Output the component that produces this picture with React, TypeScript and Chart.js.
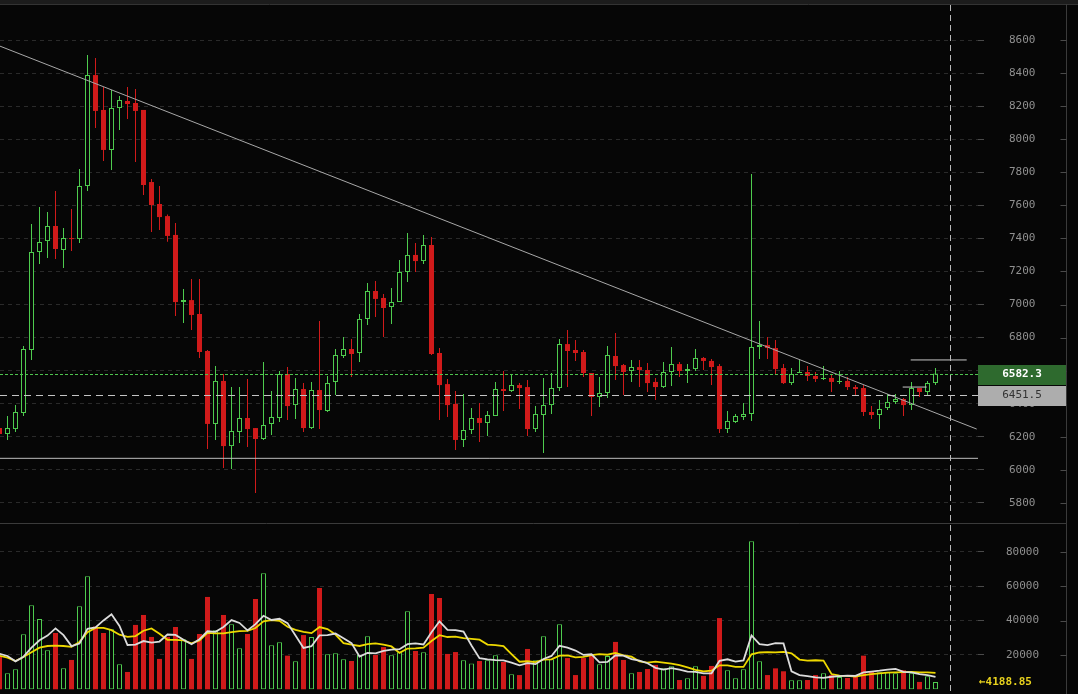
import React, { useEffect, useRef } from "react";
import { Chart, registerables } from "chart.js";

Chart.register(...registerables);

const opens = [6253,6217,6247,6344,6725,7318,7384,7475,7330,7402,
 7396,7717,8388,8177,7935,8189,8231,8219,8177,7741,
 7608,7535,7421,7015,7027,6943,6719,6278,6538,6144,
 6229,6314,6253,6187,6278,6314,6580,6392,6489,6253,
 6483,6356,6532,6689,6731,6707,6913,7082,7040,6985,
 7015,7197,7300,7263,7360,6707,6519,6399,6181,6241,
 6314,6284,6326,6489,6477,6513,6501,6247,6332,6392,
 6495,6761,6725,6713,6586,6441,6465,6689,6634,6598,
 6622,6604,6532,6501,6592,6640,6598,6610,6677,6659,
 6628,6247,6290,6320,6338,6743,6755,6737,6616,6525,
 6586,6592,6568,6550,6556,6532,6538,6501,6495,6350,
 6332,6374,6411,6429,6392,6495,6471,6525];

const highs = [6265,6326,6392,6749,7487,7590,7560,7687,7463,7578,
 7820,8509,8491,8316,8298,8261,8316,8304,8177,7759,
 7717,7545,7493,7094,7154,7154,6725,6628,6580,6501,
 6501,6550,6253,6652,6477,6598,6622,6556,6525,6532,
 6900,6568,6731,6804,6792,6943,7130,7142,7064,7100,
 7269,7433,7372,7421,7408,6737,6550,6477,6459,6374,
 6405,6356,6532,6598,6574,6525,6544,6386,6556,6586,
 6792,6846,6786,6725,6586,6562,6749,6828,6640,6665,
 6665,6646,6556,6652,6743,6652,6640,6731,6683,6671,
 6640,6356,6338,6405,7790,6900,6804,6786,6640,6616,
 6665,6628,6592,6628,6580,6598,6562,6513,6513,6386,
 6423,6459,6459,6435,6532,6495,6538,6616];

const lows = [6205,6181,6229,6326,6665,7245,7282,7275,7221,7324,
 7372,7687,8068,7868,7814,8056,8122,7862,7662,7439,
 7451,7380,6931,6888,6846,6677,6126,6181,6011,6005,
 6163,6138,5860,6181,6211,6290,6302,6308,6229,6247,
 6247,6350,6453,6677,6562,6652,6876,6925,6804,6882,
 7015,7136,7197,7245,6695,6302,6320,6120,6138,6217,
 6169,6205,6326,6356,6471,6368,6205,6229,6102,6338,
 6477,6501,6659,6562,6326,6380,6435,6544,6453,6532,
 6501,6471,6423,6495,6507,6562,6525,6598,6604,6513,
 6223,6223,6284,6302,6296,6671,6671,6574,6520,6513,
 6586,6538,6532,6544,6471,6519,6483,6453,6326,6308,
 6247,6362,6399,6326,6362,6441,6453,6513];

const closes = [6217,6253,6350,6731,7318,7378,7475,7336,7402,7396,
 7717,8388,8171,7935,8189,8237,8213,8171,7723,7602,
 7529,7415,7015,7027,6937,6713,6278,6538,6144,6235,
 6314,6247,6187,6271,6320,6580,6386,6489,6253,6483,
 6362,6525,6695,6731,6701,6913,7082,7034,6979,7015,
 7197,7300,7263,7360,6701,6513,6392,6181,6241,6314,
 6284,6332,6489,6477,6513,6495,6247,6338,6392,6495,
 6761,6719,6707,6586,6441,6465,6695,6628,6592,6622,
 6604,6525,6501,6592,6640,6598,6610,6677,6659,6622,
 6247,6296,6326,6338,6743,6755,6737,6610,6525,6580,
 6592,6568,6550,6556,6532,6538,6501,6489,6350,6332,
 6368,6411,6429,6392,6495,6471,6525,6582.3];

const volumes = [19600,9300,11700,32000,48900,41000,22700,32800,12200,17100,
 48400,65800,36500,32800,35000,14600,10100,37500,43300,30500,
 17700,30500,36300,29100,17700,32200,53800,34400,43300,37900,
 23900,32200,52600,67600,25600,27400,19600,16300,31600,30500,
 59000,20400,21000,17500,16500,20000,30900,20000,24600,19800,
 21600,45400,22300,21600,55500,53200,20600,21700,16900,15100,
 16500,16900,19800,15900,8700,8300,23500,16900,30900,17500,
 37900,18200,8300,18200,19400,14600,19400,27600,17100,9300,
 10100,11800,14200,12200,13400,5400,6400,13400,7800,13600,
 41500,11100,6400,11700,86200,16300,8300,12200,10500,5200,
 5200,5400,8300,9300,8300,7200,6600,7600,19600,10500,
 9900,9900,9300,11100,9300,4300,7600,4188.85];

const volumeMa5 = [20740,19400,16300,19000,24300,28580,31260,35480,31520,25160,
 26640,35260,36000,40120,43700,36940,25800,26000,28100,27200,
 27820,31900,31660,28820,26260,29160,33820,33440,36280,40320,
 38660,34340,37980,42840,40380,41080,38560,31300,24100,25080,
 31400,31560,32500,29680,26880,19080,21180,20980,22400,23060,
 23380,26280,26740,26140,33280,39600,34640,34520,33580,25500,
 18160,17420,17040,16840,15560,13920,15240,14660,17660,19420,
 25340,24280,22560,20020,20400,15740,15980,19840,19620,17600,
 16700,15180,12500,11520,12340,11400,10320,10160,9280,9320,
 16540,17480,16080,16860,31380,26340,25780,26940,26700,10500,
 8280,7700,6920,6680,7300,7700,7940,7800,9860,10300,
 10840,11500,11840,10140,9900,8780,8320,7298];

const volumeMa10 = [19570,18400,16480,18800,21550,24230,25220,25400,25220,24730,
 27610,33260,35740,35820,34430,31790,30530,31000,34110,35450,
 32380,28850,28830,28460,26730,28490,32860,32550,32550,33290,
 33910,34080,35710,39560,40350,39870,36450,34640,33470,32730,
 36240,35060,31900,26890,25980,25240,26370,26740,26040,24970,
 21230,23730,23860,24270,28170,31490,30460,30630,29860,29390,
 28880,26030,25780,25210,20530,16040,16330,15850,17250,17490,
 19630,19760,18610,18840,19910,20540,20130,21200,19820,19000,
 16220,15580,16170,15570,14970,14050,12750,11330,10400,10830,
 13970,13900,13120,13070,20350,21440,21630,21510,21780,20940,
 17310,16740,16930,16690,8900,7990,7820,7360,8270,8800,
 9270,9720,9820,10000,10100,9810,9910,9569];

const priceTicks = [5800, 6000, 6200, 6400, 6600, 6800, 7000, 7200, 7400, 7600, 7800, 8000, 8200, 8400, 8600];
const volumeTicks = [20000, 40000, 60000, 80000];

// drawn annotation lines (x in candle index units, y in price)
const trendLine = [{ x: 0, y: 8564 }, { x: 122.15, y: 6247 }];
const supportLine = [{ x: 0, y: 6070 }, { x: 122.4, y: 6070 }];
const markLineA = [{ x: 113.9, y: 6665 }, { x: 120.9, y: 6665 }];
const markLineB = [{ x: 112.9, y: 6501 }, { x: 115.9, y: 6501 }];

const crossPrice = 6451.5;
const crossIndex = 118.8;

const BG = "#060606";
const RED = "#d01a1a";
const GREEN = "#4ecb4e";
const FONT = "DejaVu Sans Mono";

export default function App() {
  const ref = useRef<HTMLCanvasElement>(null);

  useEffect(() => {
    document.body.style.margin = "0";
    document.body.style.background = BG;
    const canvas = ref.current!;
    const xs = opens.map((_, i) => i);
    const up = xs.map((i) => closes[i] >= opens[i]);
    const col = xs.map((i) => (up[i] ? GREEN : RED));
    const fill = xs.map((i) => (up[i] ? BG : RED));
    const bw = xs.map((i) => (up[i] ? 1 : 0));
    const last = closes.length - 1;

    const overlay = {
      id: "overlay",
      beforeDraw(chart: any) {
        const { ctx, width, height } = chart;
        ctx.save();
        ctx.fillStyle = BG;
        ctx.fillRect(0, 0, width, height);
        ctx.restore();
      },
      afterDraw(chart: any) {
        const { ctx } = chart;
        const sx = chart.scales.x;
        const sy = chart.scales.y;
        const sv = chart.scales.yv;
        const area = chart.chartArea;
        const rightEdge = Math.round(sy.right) + 0.5;
        ctx.save();
        // top band
        ctx.fillStyle = "#1c1c1c";
        ctx.fillRect(0, 0, chart.width, 4);
        ctx.strokeStyle = "#333";
        ctx.lineWidth = 1;
        ctx.beginPath();
        ctx.moveTo(0, 4.5);
        ctx.lineTo(chart.width, 4.5);
        ctx.stroke();
        // panel separator
        const sepY = Math.round(sv.top) + 0.5;
        ctx.strokeStyle = "#3a3a3a";
        ctx.beginPath();
        ctx.moveTo(0, sepY);
        ctx.lineTo(rightEdge, sepY);
        ctx.stroke();
        // right divider
        ctx.beginPath();
        ctx.moveTo(rightEdge, 4);
        ctx.lineTo(rightEdge, chart.height);
        ctx.stroke();
        // small ticks near divider
        ctx.strokeStyle = "#4a4a4a";
        for (const sc of [sy, sv]) {
          for (const t of sc.ticks) {
            const py = Math.round(sc.getPixelForValue(t.value)) + 0.5;
            ctx.beginPath();
            ctx.moveTo(rightEdge - 6, py);
            ctx.lineTo(rightEdge, py);
            ctx.stroke();
          }
        }
        // last price dotted line
        const lp = Math.round(sy.getPixelForValue(closes[last])) + 0.5;
        ctx.strokeStyle = "#4ec44e";
        ctx.setLineDash([3, 2]);
        ctx.beginPath();
        ctx.moveTo(area.left, lp);
        ctx.lineTo(area.right, lp);
        ctx.stroke();
        // crosshair
        const cp = Math.round(sy.getPixelForValue(crossPrice)) + 0.5;
        ctx.strokeStyle = "#c4c4c4";
        ctx.setLineDash([7, 5]);
        ctx.beginPath();
        ctx.moveTo(area.left, cp);
        ctx.lineTo(area.right, cp);
        ctx.stroke();
        const cx = Math.round(sx.getPixelForValue(crossIndex)) + 0.5;
        ctx.setLineDash([6, 4]);
        ctx.strokeStyle = "#b8b8b8";
        ctx.beginPath();
        ctx.moveTo(cx, 5);
        ctx.lineTo(cx, chart.height);
        ctx.stroke();
        ctx.setLineDash([]);
        // price boxes
        const bx = area.right;
        const bwid = rightEdge - 0.5 - area.right;
        ctx.fillStyle = "#2e6a2e";
        ctx.fillRect(bx, Math.round(lp - 10), bwid, 20);
        ctx.fillStyle = "#ffffff";
        ctx.font = `bold 11px ${FONT}`;
        ctx.textAlign = "center";
        ctx.textBaseline = "middle";
        ctx.fillText(String(closes[last]), bx + bwid / 2, lp);
        ctx.fillStyle = "#adadad";
        ctx.fillRect(bx, Math.round(cp - 10), bwid, 20);
        ctx.fillStyle = "#333333";
        ctx.font = `11px ${FONT}`;
        ctx.fillText(String(crossPrice), bx + bwid / 2, cp);
        // last volume label
        const vp = sv.getPixelForValue(volumes[last]);
        ctx.fillStyle = "#e8d21d";
        ctx.font = `bold 11px ${FONT}`;
        ctx.textAlign = "left";
        ctx.fillText("\u2190" + volumes[last].toFixed(2), area.right + 1, vp);
        ctx.restore();
      },
    };

    const lineDs = (data: any[], color: string, axis: string, width: number) => ({
      type: "line" as const,
      data,
      yAxisID: axis,
      borderColor: color,
      borderWidth: width,
      pointRadius: 0,
      tension: 0,
      fill: false,
      order: 0,
    });

    const fitAxis = (s: any) => {
      s.width = 88;
      s.paddingTop = 0;
      s.paddingBottom = 0;
    };

    const chart = new Chart(canvas, {
      type: "bar",
      data: {
        datasets: [
          lineDs(xs.map((i) => ({ x: i, y: volumeMa5[i] })), "#dcdcdc", "yv", 1.8) as any,
          lineDs(xs.map((i) => ({ x: i, y: volumeMa10[i] })), "#eed800", "yv", 1.8) as any,
          lineDs(trendLine, "#a8a8a8", "y", 1) as any,
          lineDs(supportLine, "#bdbdbd", "y", 1) as any,
          lineDs(markLineA, "#c8c8c8", "y", 1) as any,
          lineDs(markLineB, "#c8c8c8", "y", 1) as any,
          {
            type: "bar",
            data: xs.map((i) => ({ x: i, y: [opens[i], closes[i]] })),
            yAxisID: "y",
            backgroundColor: fill,
            borderColor: col,
            borderWidth: bw,
            borderSkipped: false,
            barThickness: 5,
            grouped: false,
            inflateAmount: 0,
            order: 1,
          } as any,
          {
            type: "bar",
            data: xs.map((i) => ({ x: i, y: [lows[i], highs[i]] })),
            yAxisID: "y",
            backgroundColor: col,
            borderWidth: 0,
            barThickness: 1,
            grouped: false,
            inflateAmount: 0,
            order: 2,
          } as any,
          {
            type: "bar",
            data: xs.map((i) => ({ x: i, y: volumes[i] })),
            yAxisID: "yv",
            backgroundColor: fill,
            borderColor: col,
            borderWidth: bw,
            borderSkipped: false,
            barThickness: 5,
            grouped: false,
            inflateAmount: 0,
            order: 1,
          } as any,
        ],
      },
      options: {
        animation: false,
        responsive: false,
        devicePixelRatio: 1,
        events: [],
        layout: { padding: { left: 0, right: 12, top: 5, bottom: 0 } },
        plugins: { legend: { display: false }, tooltip: { enabled: false } },
        scales: {
          x: {
            type: "linear",
            min: 0.0625,
            max: 122.3125,
            display: false,
            offset: false,
          },
          y: {
            type: "linear",
            position: "right",
            stack: "panels",
            stackWeight: 518,
            weight: 0,
            min: 5678.8,
            max: 8811.7,
            afterBuildTicks: (s: any) => {
              s.ticks = priceTicks.map((v) => ({ value: v }));
            },
            afterFit: fitAxis,
            ticks: {
              font: { family: FONT, size: 11 },
              color: "#909090",
              padding: 25,
              crossAlign: "near",
              callback: (v: any) => String(v),
            },
            grid: { color: "#2a2a2a", tickLength: 6, tickColor: "#4a4a4a" },
            border: { display: false, dash: [4, 4] },
          } as any,
          yv: {
            type: "linear",
            position: "right",
            stack: "panels",
            stackWeight: 171,
            weight: 1,
            min: -2738,
            max: 96870,
            afterBuildTicks: (s: any) => {
              s.ticks = volumeTicks.map((v) => ({ value: v }));
            },
            afterFit: fitAxis,
            ticks: {
              font: { family: FONT, size: 11 },
              color: "#909090",
              padding: 22,
              crossAlign: "near",
              callback: (v: any) => String(v),
            },
            grid: { color: "#2a2a2a", tickLength: 6, tickColor: "#4a4a4a" },
            border: { display: false, dash: [4, 4] },
          } as any,
        },
      },
      plugins: [overlay],
    });

    return () => chart.destroy();
  }, []);

  return (
    <div style={{ width: 1078, height: 694, background: BG }}>
      <canvas ref={ref} width={1078} height={694} style={{ display: "block" }} />
    </div>
  );
}
